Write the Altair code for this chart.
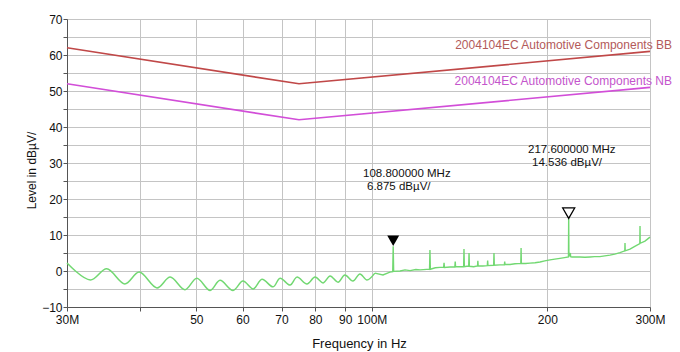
import altair as alt
import pandas as pd

# ---- data ----
limit_freq = [30, 75, 300]
limit_bb = [62, 52, 61]
limit_nb = [52, 42, 51]
limit_names = ["2004104EC Automotive Components BB", "2004104EC Automotive Components NB"]
limit_label_level = [62.8, 52.8]

trace_freq = [
    30.0, 32.9, 35.1, 37.7, 39.9, 42.8, 45.1, 47.8, 50.1, 52.8, 54.9, 57.8,
    60.1, 62.6, 64.8, 67.7, 69.6, 72.4, 74.4, 77.4, 79.9, 82.5, 84.8, 87.5,
    89.9, 92.8, 95.4, 98.1, 101.2, 104.5, 107.4, 108.6, 108.8, 109.0, 111.8,
    114.0, 116.3, 119.0, 121.0, 125.6, 125.8, 126.0, 128.5, 130.9, 132.8,
    133.0, 133.2, 136.2, 138.8, 139.0, 139.2, 141.5, 143.7, 143.9, 144.1,
    145.5, 146.6, 146.8, 147.0, 149.5, 151.8, 152.0, 152.2, 155.0, 157.8,
    158.0, 158.2, 161.8, 162.0, 162.2, 165.9, 168.8, 169.0, 169.2, 172.6,
    176.0, 180.1, 180.3, 180.5, 183.5, 186.8, 190.5, 194.3, 198.0, 202.1,
    206.0, 210.2, 214.0, 217.4, 217.6, 217.8, 219.0, 219.3, 220.4, 224.0,
    227.5, 232.0, 236.7, 241.0, 246.2, 251.0, 256.1, 261.0, 266.5, 271.6,
    271.8, 272.0, 277.2, 282.0, 288.2, 288.4, 288.6, 294.1, 300.0,
]
trace_level = [
    2.2, -2.5, 0.6, -3.6, -0.3, -4.7, -1.7, -5.2, -2.0, -5.4, -2.6, -5.4,
    -2.8, -5.0, -2.3, -4.4, -2.0, -3.9, -1.7, -3.6, -1.7, -3.3, -1.4, -3.1,
    -1.1, -2.8, -0.8, -2.5, -0.6, -1.1, -0.3, -0.2, 6.875, -0.1, 0.0,
    0.3, 0.1, 0.4, 0.3, 0.5, 5.8, 0.5, 0.9, 1.0, 1.0,
    2.3, 1.0, 1.1, 1.1, 2.6, 1.2, 1.2, 1.2, 6.1, 1.2,
    1.3, 1.3, 5.0, 1.3, 1.2, 1.4, 2.8, 1.4, 1.4, 1.5,
    2.9, 1.5, 1.6, 5.0, 1.6, 1.7, 1.7, 2.6, 1.8, 1.8,
    2.0, 2.1, 6.4, 2.1, 2.1, 2.2, 2.3, 2.5, 2.8, 3.1,
    3.3, 3.5, 3.7, 3.9, 14.536, 4.0, 5.0, 4.0, 3.9, 3.9,
    3.9, 3.8, 3.9, 4.0, 4.0, 4.2, 4.4, 4.7, 5.1, 5.6,
    7.8, 5.6, 6.1, 6.8, 7.6, 12.5, 7.7, 8.3, 9.4,
]

marker_freq = [108.8, 217.6]
marker_level = [6.875, 14.536]

ann_line1 = ["108.800000 MHz", "217.600000 MHz"]
ann_freq1 = [96.6, 185.3]
ann_level1 = [27.0, 33.6]
ann_line2 = ["6.875 dBµV/", "14.536 dBµV/"]
ann_freq2 = [98.1, 188.3]
ann_level2 = [23.3, 29.9]

x_tick_values = [30, 40, 50, 60, 70, 80, 90, 100, 200, 300]
x_tick_labels = ["30M", "", "50", "60", "70", "80", "90", "100M", "200", "300M"]
y_tick_values = list(range(-10, 75, 5))

# ---- build ----
FONT = "Liberation Sans"
label_expr = " : ".join(
    f"datum.value == {v} ? '{l}'" for v, l in zip(x_tick_values, x_tick_labels)
) + " : ''"

x_axis = alt.Axis(
    values=x_tick_values, labelExpr=label_expr, grid=True, gridColor="#c4c4c4",
    domainColor="#555555", tickColor="#555555", tickSize=4, labelFont=FONT,
    labelFontSize=12, labelColor="#111111", labelPadding=3, labelFlush=False,
    labelOverlap=False, title="Frequency in Hz", titleFont=FONT, titleFontSize=13,
    titleFontWeight="normal", titleColor="#111111", titleX=292, titleY=36,
    titleBaseline="middle",
)
y_axis = alt.Axis(
    values=y_tick_values, labelExpr="datum.value % 10 == 0 ? datum.label : ''",
    grid=True, gridColor="#c4c4c4", domainColor="#555555", tickColor="#555555",
    tickSize=4, labelFont=FONT, labelFontSize=12, labelColor="#111111",
    labelPadding=1, labelOverlap=False, title="Level in dBµV/", titleFont=FONT,
    titleFontSize=12, titleFontWeight="normal", titleColor="#111111",
    titleX=-36, titleY=151, titleBaseline="middle", titleAlign="center",
)

X = alt.X("f:Q", scale=alt.Scale(type="log", domain=[30, 300], nice=False), axis=x_axis)
Y = alt.Y("v:Q", scale=alt.Scale(domain=[-10, 70], nice=False), axis=y_axis)

df_trace = pd.DataFrame({"f": trace_freq, "v": trace_level})
df_wave = df_trace[df_trace["f"] <= 101.2]
df_rest = df_trace[df_trace["f"] >= 101.2]
df_bb = pd.DataFrame({"f": limit_freq, "v": limit_bb})
df_nb = pd.DataFrame({"f": limit_freq, "v": limit_nb})
df_lbl = pd.DataFrame({"f": [300, 300], "v": limit_label_level, "t": limit_names,
                       "c": ["#b35a5a", "#c455cc"]})
df_mk = pd.DataFrame({"f": marker_freq, "v": marker_level})
df_a1 = pd.DataFrame({"f": ann_freq1, "v": ann_level1, "t": ann_line1})
df_a2 = pd.DataFrame({"f": ann_freq2, "v": ann_level2, "t": ann_line2})

GREEN = "#72d872"
wave = alt.Chart(df_wave).mark_line(
    color=GREEN, strokeWidth=1.5, interpolate="catmull-rom"
).encode(x=X, y=Y)
rest = alt.Chart(df_rest).mark_line(
    color=GREEN, strokeWidth=1.4, interpolate="linear"
).encode(x=X, y=Y)

bb = alt.Chart(df_bb).mark_line(color="#c04848", strokeWidth=1.6).encode(x=X, y=Y)
nb = alt.Chart(df_nb).mark_line(color="#d24ed8", strokeWidth=1.6).encode(x=X, y=Y)

lbl = alt.Chart(df_lbl).mark_text(
    align="right", baseline="middle", dx=22, font=FONT, fontSize=12
).encode(x=X, y=Y, text="t:N", color=alt.Color("c:N", scale=None))

mk_filled = alt.Chart(df_mk.iloc[[0]]).mark_point(
    shape="triangle-down", size=144, filled=True, color="black", opacity=1, yOffset=-5.5
).encode(x=X, y=Y)
mk_hollow = alt.Chart(df_mk.iloc[[1]]).mark_point(
    shape="triangle-down", size=144, filled=False, color="black", strokeWidth=1.3,
    opacity=1, yOffset=-5.5
).encode(x=X, y=Y)

a1 = alt.Chart(df_a1).mark_text(
    align="left", baseline="middle", font=FONT, fontSize=11.5, color="#111111"
).encode(x=X, y=Y, text="t:N")
a2 = alt.Chart(df_a2).mark_text(
    align="left", baseline="middle", font=FONT, fontSize=11.5, color="#111111"
).encode(x=X, y=Y, text="t:N")

chart = alt.layer(bb, nb, wave, rest, lbl, mk_filled, mk_hollow, a1, a2).properties(
    width=583, height=288,
    autosize=alt.AutoSizeParams(type="none"),
    padding={"left": 67, "top": 19, "right": 30, "bottom": 45},
    background="white",
).configure_view(stroke=None)

chart.save("out.html", embed_options={"renderer": "svg", "actions": False})
